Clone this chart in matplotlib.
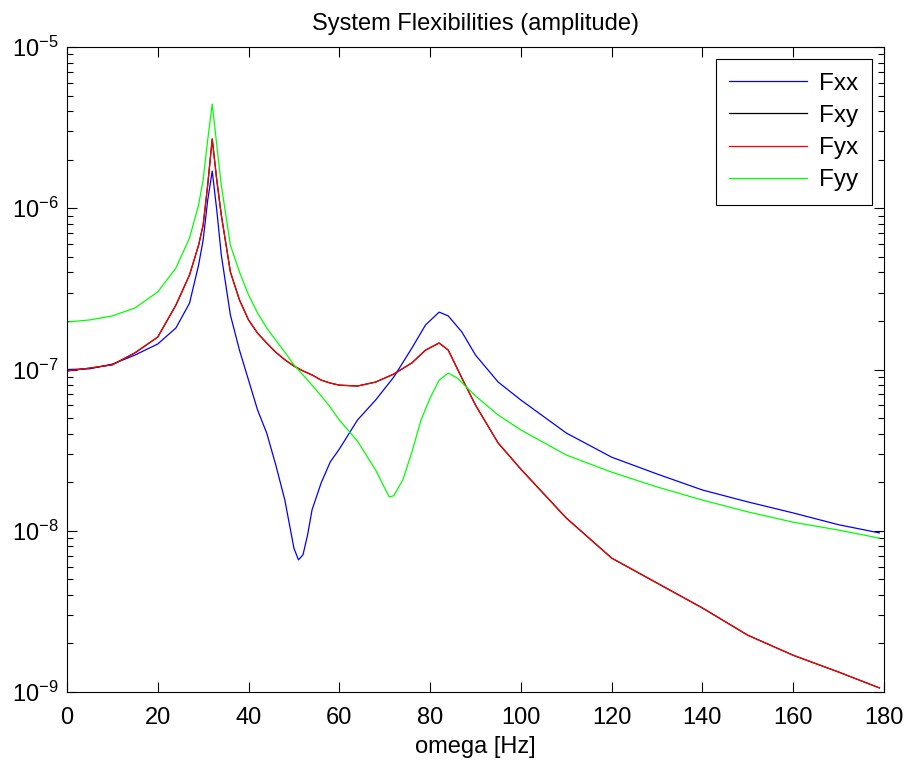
import matplotlib
matplotlib.use("Agg")
import matplotlib.pyplot as plt
from matplotlib.ticker import LogLocator, NullFormatter, FixedLocator

plt.rcParams["font.family"] = ["Liberation Sans", "DejaVu Sans"]
plt.rcParams["mathtext.fontset"] = "custom"
plt.rcParams["mathtext.rm"] = "Liberation Sans"
plt.rcParams["mathtext.it"] = "Liberation Sans:italic"
plt.rcParams["mathtext.default"] = "regular"
plt.rcParams["axes.unicode_minus"] = False

# Fxx (blue)
freq_xx = [0, 5, 10, 15, 20, 24, 27, 29, 30, 31, 32, 33, 34, 36, 38, 40, 42, 44, 46, 48,
           50, 51, 52, 53, 54, 56, 58, 60, 64, 68, 72, 76, 79, 82, 84, 87, 90, 95, 100,
           110, 120, 130, 140, 150, 160, 170, 179]
fxx = [1.0e-7, 1.01e-7, 1.08e-7, 1.23e-7, 1.44e-7, 1.81e-7, 2.58e-7, 4.45e-7, 6.35e-7,
       1.12e-6, 1.70e-6, 9.75e-7, 5.13e-7, 2.18e-7, 1.32e-7, 8.6e-8, 5.6e-8, 4.04e-8,
       2.56e-8, 1.55e-8, 7.8e-9, 6.6e-9, 7.1e-9, 9.4e-9, 1.35e-8, 1.98e-8, 2.67e-8,
       3.21e-8, 4.86e-8, 6.47e-8, 8.98e-8, 1.36e-7, 1.89e-7, 2.27e-7, 2.15e-7, 1.71e-7,
       1.23e-7, 8.36e-8, 6.47e-8, 4.04e-8, 2.86e-8, 2.25e-8, 1.79e-8, 1.51e-8, 1.29e-8,
       1.09e-8, 9.7e-9]

# Fxy and Fyx are identical (black hidden under red)
freq_xy = [0, 5, 10, 15, 20, 24, 27, 29, 30, 31, 32, 33, 34, 36, 38, 40, 42, 44, 46, 48,
           50, 52, 54, 56, 58, 60, 64, 68, 72, 76, 79, 82, 84, 87, 90, 95, 100, 110, 120,
           130, 140, 150, 160, 170, 179]
fxy = [9.8e-8, 1.02e-7, 1.07e-7, 1.27e-7, 1.59e-7, 2.51e-7, 3.86e-7, 5.91e-7, 7.87e-7,
       1.39e-6, 2.69e-6, 1.50e-6, 9.08e-7, 4.03e-7, 2.70e-7, 2.03e-7, 1.68e-7, 1.46e-7,
       1.28e-7, 1.15e-7, 1.05e-7, 9.8e-8, 9.25e-8, 8.6e-8, 8.24e-8, 8.0e-8, 7.9e-8,
       8.36e-8, 9.37e-8, 1.10e-7, 1.32e-7, 1.46e-7, 1.32e-7, 8.85e-8, 6.02e-8, 3.50e-8,
       2.41e-8, 1.20e-8, 6.77e-9, 4.74e-9, 3.32e-9, 2.25e-9, 1.69e-9, 1.33e-9, 1.06e-9]
fyx = list(fxy)

# Fyy (green)
freq_yy = [0, 5, 10, 15, 20, 24, 27, 29, 30, 31, 32, 33, 34, 36, 38, 40, 42, 44, 46, 48,
           50, 52, 54, 56, 58, 60, 64, 68, 70, 71, 72, 74, 76, 78, 80, 82, 84, 86, 88, 90,
           95, 100, 110, 120, 130, 140, 150, 160, 170, 179]
fyy = [1.97e-7, 2.03e-7, 2.15e-7, 2.41e-7, 3.03e-7, 4.26e-7, 6.54e-7, 1.05e-6, 1.50e-6,
       2.65e-6, 4.43e-6, 2.47e-6, 1.39e-6, 5.91e-7, 4.03e-7, 2.90e-7, 2.24e-7, 1.81e-7,
       1.52e-7, 1.28e-7, 1.07e-7, 9.25e-8, 8.0e-8, 6.86e-8, 5.85e-8, 4.86e-8, 3.6e-8,
       2.38e-8, 1.84e-8, 1.62e-8, 1.65e-8, 2.07e-8, 3.08e-8, 4.86e-8, 6.65e-8, 8.6e-8,
       9.5e-8, 8.85e-8, 7.78e-8, 6.86e-8, 5.22e-8, 4.22e-8, 2.95e-8, 2.31e-8, 1.87e-8,
       1.55e-8, 1.31e-8, 1.13e-8, 1.01e-8, 9.0e-9]

y_decades = [1e-9, 1e-8, 1e-7, 1e-6, 1e-5]

fig = plt.figure(figsize=(9.1, 7.66), dpi=100)
ax = fig.add_axes([0.0736, 0.0966, 0.8978, 0.8420])

ax.plot(freq_xx, fxx, color="#0000ff", lw=0.9, label="Fxx")
ax.plot(freq_xy, fxy, color="black", lw=0.9, label="Fxy")
ax.plot(freq_xy, fyx, color="#ff0000", lw=0.9, label="Fyx")
ax.plot(freq_yy, fyy, color="#00ff00", lw=0.9, label="Fyy")

ax.set_yscale("log")
ax.set_xlim(0, 180)
ax.set_ylim(1e-9, 1e-5)
ax.set_xticks(range(0, 181, 20))
ax.yaxis.set_major_locator(FixedLocator(y_decades))
ax.yaxis.set_minor_locator(LogLocator(base=10, subs=range(2, 10), numticks=100))
ax.yaxis.set_minor_formatter(NullFormatter())

ax.tick_params(which="both", direction="in", top=True, right=True, labelsize=17, width=0.8)
ax.tick_params(which="major", length=7)
ax.tick_params(which="minor", length=4)
ax.tick_params(axis="x", pad=11)
ax.tick_params(axis="y", pad=6)
for s in ax.spines.values():
    s.set_linewidth(0.8)

ax.set_title("System Flexibilities (amplitude)", fontsize=17, pad=12)
ax.set_xlabel("omega [Hz]", fontsize=17, labelpad=5)

leg = ax.legend(loc="upper right", fontsize=17.5, fancybox=False, framealpha=1,
                edgecolor="black", handlelength=3.2, labelspacing=0.42,
                borderaxespad=0.5, handletextpad=0.5, borderpad=0.55)
leg.get_frame().set_linewidth(0.8)

plt.savefig("out.png", dpi=100)
